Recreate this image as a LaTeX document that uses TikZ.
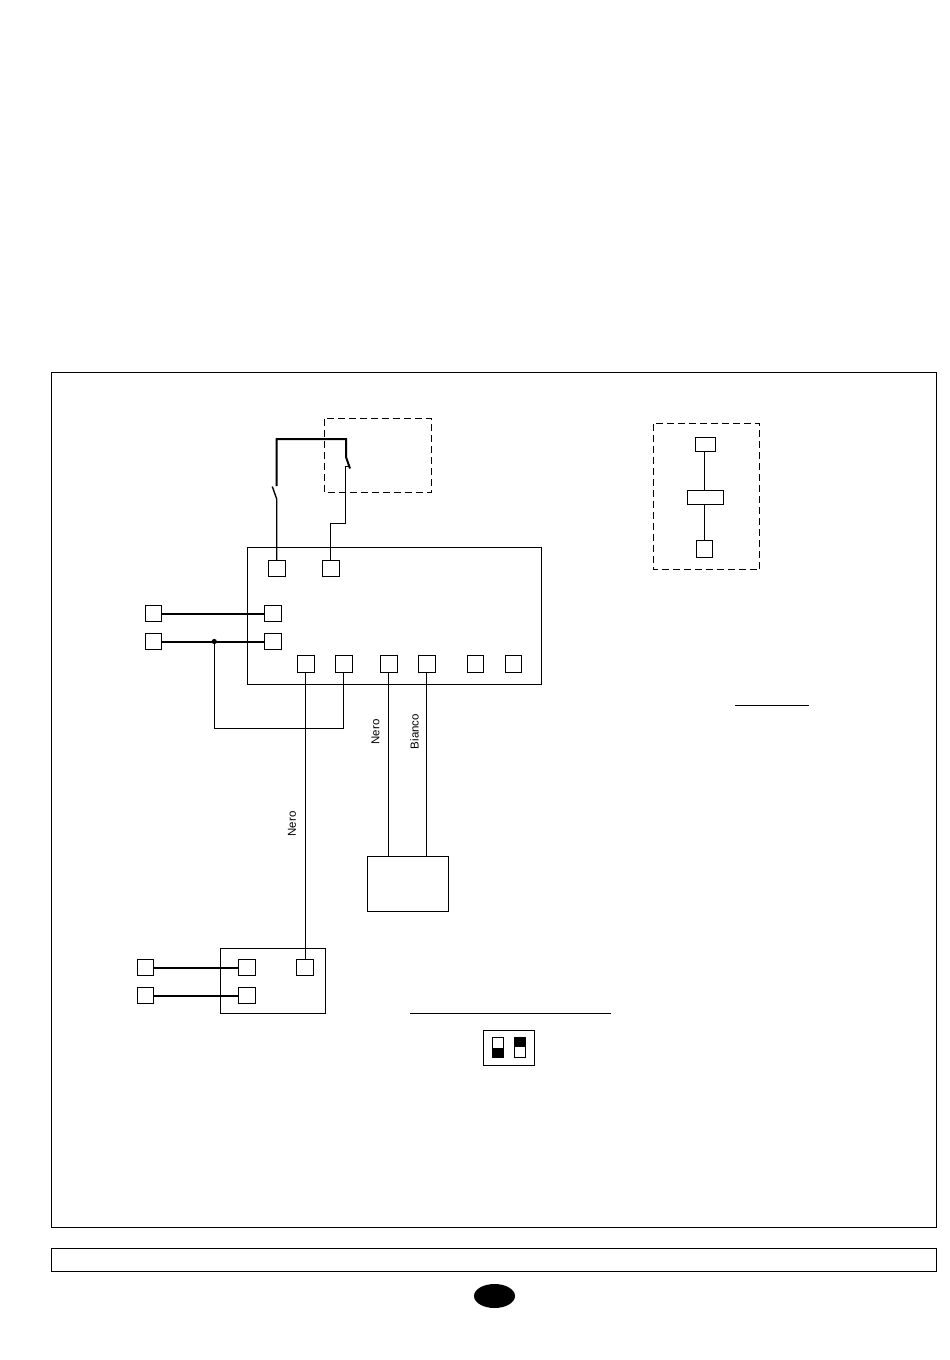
\documentclass[tikz,border=0pt]{standalone}
\usepackage{fontspec}
\setmainfont{Liberation Sans}
\usetikzlibrary{shapes.geometric}
\tikzset{
 termbox/.style={draw,line width=1pt,inner sep=0pt,minimum width=17pt,minimum height=16.5pt},
 framebox/.style={draw,line width=1pt,inner sep=0pt,outer sep=0pt,anchor=north west},
 dashbox/.style={draw,line width=1pt,dash pattern=on 7pt off 4pt},
 wire/.style={line width=1pt},
 heavy/.style={line width=1.4pt},
 mains/.style={line width=2pt},
 cablelabel/.style={rotate=90,inner sep=0pt,font=\fontsize{11.5}{13}\selectfont},
}
\begin{document}
\begin{tikzpicture}[x=1pt,y=-1pt]
 \useasboundingbox (0,0) rectangle (950,1360);
 \node[framebox,minimum width=885pt,minimum height=855pt] (page) at (51.5,372.5) {};
 \node[framebox,minimum width=885pt,minimum height=23.5pt] (foot) at (51.5,1248) {};
 \node[fill=black,ellipse,inner sep=0pt,minimum width=41pt,minimum height=24pt] (badge) at (494.5,1296) {};

 \draw[dashbox] (324.5,418.5) rectangle (431,492.5);
 \draw[dashbox] (653.5,423.5) rectangle (759.5,569.5);

 \node[framebox,minimum width=294pt,minimum height=137.5pt] (board) at (247.5,547) {};
 \node[termbox] (ta) at (277,568.5) {};
 \node[termbox] (tb) at (331,568.5) {};
 \node[termbox,minimum width=16.5pt,minimum height=16pt] (inl) at (153.5,613.5) {};
 \node[termbox,minimum width=16.5pt,minimum height=16pt] (inn) at (153.5,641.5) {};
 \node[termbox,minimum height=16pt] (tl) at (273,613.5) {};
 \node[termbox,minimum height=16pt] (tn) at (273,641.5) {};
 \node[termbox] (p1) at (305.6,664) {};
 \node[termbox] (p2) at (343.6,664) {};
 \node[termbox] (p3) at (388.6,664) {};
 \node[termbox] (p4) at (426.6,664) {};
 \node[termbox,minimum width=16.5pt] (p5) at (475.7,664) {};
 \node[termbox,minimum width=16.5pt] (p6) at (513.5,664) {};

 % contacts
 \coordinate (topl) at (276.7,439);
 \coordinate (topr) at (346,439);
 \coordinate (bladea) at (272.3,486.5);
 \coordinate (bladeb) at (276.7,499);
 \coordinate (bladec) at (346,457);
 \coordinate (blated) at (350,468.5);
 \coordinate (lowr) at (345.7,523.3);
 \coordinate (lowb) at (330.5,523.3);
 \draw[heavy] (bladea) -- (bladeb) -- (bladeb |- ta.north);
 \draw[mains] (276.7,486) -- (topl) -- (topr) -- (bladec) -- (blated);
 \draw[heavy] (349.5,466.3) -- (345.7,466.3) -- (lowr);
 \draw[wire] (lowr) -- (lowb) -- (lowb |- tb.north);

 \coordinate (dot) at (214.3,641.5);
 \coordinate (railr) at (343.5,728.5);
 \draw[mains] (inl) -- (tl);
 \draw[mains] (inn) -- (tn);
 \fill (dot) circle (2.6pt);
 \draw[wire] (dot) -- (dot |- railr) -- (railr) -- (railr |- p2.south);

 \node[framebox,minimum width=81pt,minimum height=55pt] (load) at (367.5,856.5) {};
 \draw[wire] (p3.south) -- (p3.south |- load.north);
 \draw[wire] (p4.south) -- (p4.south |- load.north);
 \node[cablelabel] (nera) at (375.5,732) {Nero};
 \node[cablelabel] (bian) at (414.5,731.5) {Bianco};
 \node[cablelabel] (nerb) at (292,824) {Nero};

 \node[framebox,minimum width=105pt,minimum height=65pt] (recv) at (220.5,948.5) {};
 \node[termbox,minimum width=16.5pt,minimum height=16pt] (rl) at (145.5,967.5) {};
 \node[termbox,minimum width=16.5pt,minimum height=16pt] (rn) at (145.5,995.5) {};
 \node[termbox,minimum height=16pt] (sl) at (247,967.5) {};
 \node[termbox,minimum height=16pt] (sn) at (247,995.5) {};
 \node[termbox,minimum height=16pt] (sx) at (305,967.5) {};
 \draw[mains] (rl) -- (sl);
 \draw[mains] (rn) -- (sn);
 \draw[wire] (p1.south) -- (p1.south |- sx.north);

 \node[termbox,minimum width=20.5pt,minimum height=14pt] (keya) at (705.5,444.5) {};
 \node[termbox,minimum width=36pt,minimum height=14pt] (keyb) at (705.5,497.5) {};
 \node[termbox,minimum width=16.5pt] (keyc) at (704.5,549) {};
 \draw[wire] (keyc.north |- keya.south) -- (keyc.north |- keyb.north);
 \draw[wire] (keyc.north |- keyb.south) -- (keyc.north);

 \draw[wire] (735,705) -- (809,705);
 \draw[wire] (410,1013.3) -- (611,1013.3);

 \node[framebox,minimum width=51.5pt,minimum height=35.5pt] (dip) at (483.3,1030.3) {};
 \draw[wire] (492.5,1037.5) rectangle (503.5,1057.5);
 \fill (492,1047.7) rectangle (504,1058);
 \draw[wire] (514.5,1037.5) rectangle (525.5,1057.5);
 \fill (514,1037) rectangle (526,1046.7);
\end{tikzpicture}
\end{document}
